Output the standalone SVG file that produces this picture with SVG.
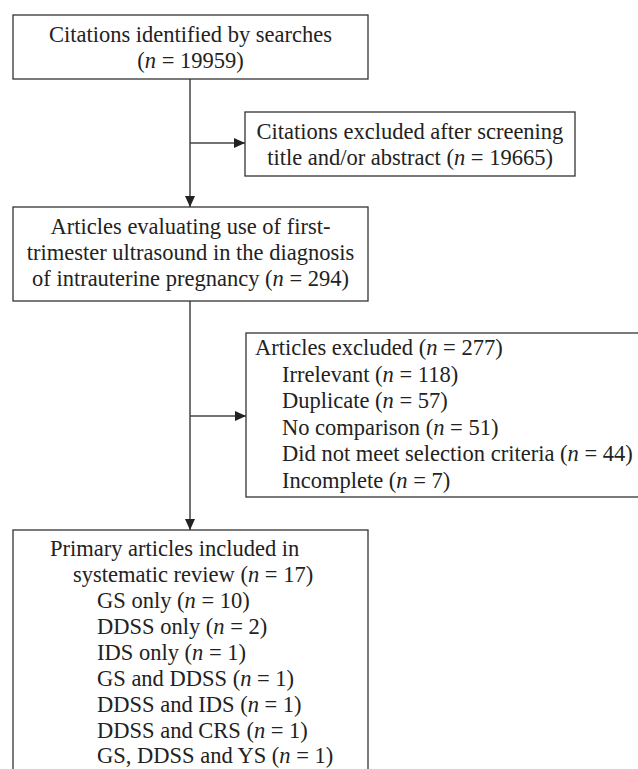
<svg xmlns="http://www.w3.org/2000/svg" width="638" height="769" viewBox="0 0 638 769">
<defs>
<style>
.box{fill:#fff;stroke:#333;stroke-width:1.3}
.t{font-size:22.5px;fill:#222}
.c{text-anchor:middle}
.i{font-style:italic}
.ln{stroke:#444;stroke-width:1.5;fill:none}
</style>
<marker id="ah" markerWidth="12" markerHeight="10" refX="11" refY="5" orient="auto" markerUnits="userSpaceOnUse">
<path d="M0,0 L11,5 L0,10 Z" fill="#222"/>
</marker>
</defs>
<rect width="638" height="769" fill="#fff"/>
<g id="connectors">
<path class="ln" d="M190,79 V207" marker-end="url(#ah)"/>
<path class="ln" d="M190,143 H245" marker-end="url(#ah)"/>
<path class="ln" d="M190,301 V530" marker-end="url(#ah)"/>
<path class="ln" d="M190,416 H246" marker-end="url(#ah)"/>
</g>
<g font-family="'Liberation Serif', 'DejaVu Serif', serif">
<g id="n1">
<rect class="box" x="13" y="15" width="355" height="64"/>
<text class="t c" x="190.5" y="42">Citations identified by searches</text>
<text class="t c" x="190.5" y="68">(<tspan class="i">n</tspan> = 19959)</text>
</g>
<g id="n2">
<rect class="box" x="245" y="112" width="330" height="64"/>
<text class="t c" x="410" y="139">Citations excluded after screening</text>
<text class="t c" x="410" y="165">title and/or abstract (<tspan class="i">n</tspan> = 19665)</text>
</g>
<g id="n3">
<rect class="box" x="13" y="207" width="355" height="94"/>
<text class="t c" x="190.5" y="234">Articles evaluating use of first-</text>
<text class="t c" x="190.5" y="260">trimester ultrasound in the diagnosis</text>
<text class="t c" x="190.5" y="286">of intrauterine pregnancy (<tspan class="i">n</tspan> = 294)</text>
</g>
<g id="n4">
<rect class="box" x="246" y="333" width="420" height="164"/>
<text class="t" x="255" y="355">Articles excluded (<tspan class="i">n</tspan> = 277)</text>
<text class="t" x="282" y="381.5">Irrelevant (<tspan class="i">n</tspan> = 118)</text>
<text class="t" x="282" y="408">Duplicate (<tspan class="i">n</tspan> = 57)</text>
<text class="t" x="282" y="434.5">No comparison (<tspan class="i">n</tspan> = 51)</text>
<text class="t" x="282" y="461">Did not meet selection criteria (<tspan class="i">n</tspan> = 44)</text>
<text class="t" x="282" y="487.5">Incomplete (<tspan class="i">n</tspan> = 7)</text>
</g>
<g id="n5">
<rect class="box" x="13" y="530" width="355" height="300"/>
<text class="t" x="50" y="556">Primary articles included in</text>
<text class="t" x="73" y="582">systematic review (<tspan class="i">n</tspan> = 17)</text>
<text class="t" x="97" y="608">GS only (<tspan class="i">n</tspan> = 10)</text>
<text class="t" x="97" y="634">DDSS only (<tspan class="i">n</tspan> = 2)</text>
<text class="t" x="97" y="660">IDS only (<tspan class="i">n</tspan> = 1)</text>
<text class="t" x="97" y="686">GS and DDSS (<tspan class="i">n</tspan> = 1)</text>
<text class="t" x="97" y="712">DDSS and IDS (<tspan class="i">n</tspan> = 1)</text>
<text class="t" x="97" y="738">DDSS and CRS (<tspan class="i">n</tspan> = 1)</text>
<text class="t" x="97" y="763">GS, DDSS and YS (<tspan class="i">n</tspan> = 1)</text>
</g>
</g>
</svg>
